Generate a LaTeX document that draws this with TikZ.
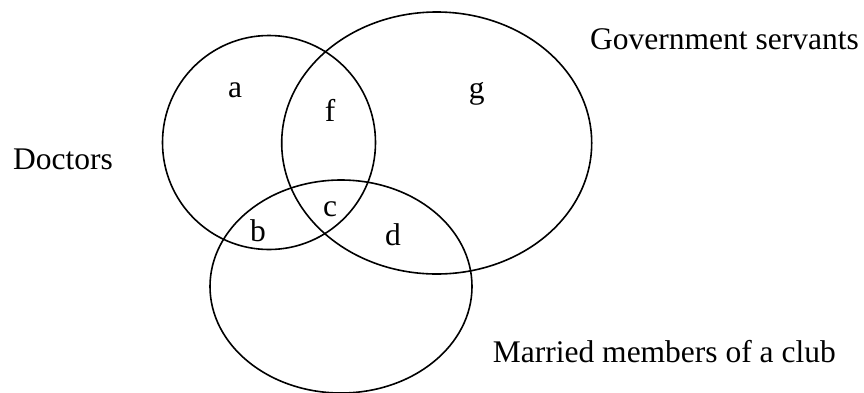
\documentclass[tikz,border=0pt]{standalone}
\usepackage{fontspec}
\setmainfont{Liberation Serif}
\usetikzlibrary{shapes.geometric}
\begin{document}
\begin{tikzpicture}[x=1pt,y=-1pt,
  setshape/.style={draw=black, line width=1.6pt, ellipse, inner sep=0pt, outer sep=0pt},
  lbl/.style={font=\fontsize{31.5}{36}\selectfont, inner sep=0pt, anchor=base west},
  reg/.style={font=\fontsize{31.5}{36}\selectfont, inner sep=0pt, anchor=base}]
\useasboundingbox (0,0) rectangle (864,392);
\node[setshape, minimum width=213pt, minimum height=214pt] (doc) at (269,142.5) {};
\node[setshape, minimum width=310pt, minimum height=262pt] (gov) at (436.7,143) {};
\node[setshape, minimum width=262pt, minimum height=213pt] (mar) at (341,286.5) {};
\node[lbl] (tdoc) at (13,169) {Doctors};
\node[lbl] (tgov) at (590,49.3) {Government servants};
\node[lbl] (tmar) at (492.7,362) {Married members of a club};
\node[reg] (ra) at (235,97.3) {a};
\node[reg] (rf) at (330,121.7) {f};
\node[reg] (rg) at (476.7,98) {g};
\node[reg] (rc) at (330,216.7) {c};
\node[reg] (rb) at (258,241.7) {b};
\node[reg] (rd) at (393,245) {d};
\end{tikzpicture}
\end{document}
